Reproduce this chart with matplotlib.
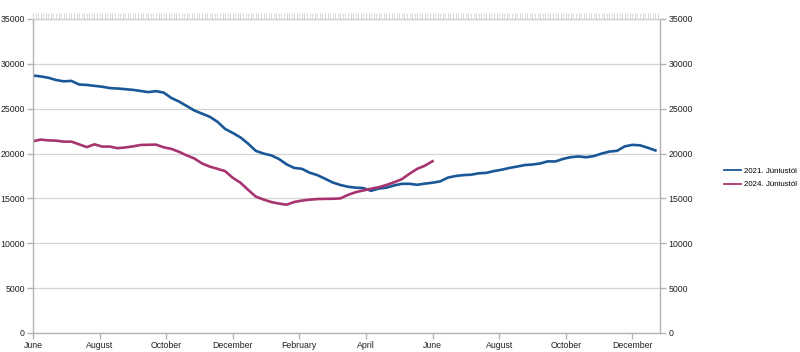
import matplotlib
matplotlib.use("Agg")
import matplotlib.pyplot as plt
import numpy as np

# Weekly values, week 0 = start of June
series_2021 = [28700, 28600, 28450, 28200, 28050, 28100, 27700, 27650, 27550, 27450,
               27300, 27250, 27180, 27100, 26980, 26850, 26960, 26800, 26200, 25800,
               25300, 24800, 24450, 24100, 23550, 22750, 22300, 21800, 21100, 20300,
               20000, 19800, 19400, 18800, 18400, 18300, 17870, 17600, 17200, 16780,
               16500, 16300, 16200, 16150, 15850, 16100, 16200, 16450, 16630, 16630,
               16520, 16650, 16750, 16900, 17320, 17500, 17600, 17640, 17800, 17850,
               18050, 18200, 18400, 18550, 18720, 18780, 18900, 19130, 19120, 19410,
               19600, 19680, 19590, 19720, 20000, 20220, 20300, 20800, 20970, 20920,
               20650, 20350]
series_2024 = [21370, 21560, 21470, 21440, 21330, 21330, 21030, 20720, 21030, 20780,
               20780, 20600, 20680, 20800, 20960, 20980, 21000, 20700, 20520, 20200,
               19800, 19450, 18900, 18550, 18300, 18040, 17300, 16750, 15950, 15200,
               14880, 14600, 14430, 14300, 14600, 14760, 14860, 14930, 14950, 14960,
               15000, 15400, 15700, 15890, 16080, 16250, 16500, 16800, 17150, 17750,
               18300, 18650, 19150]
labels = ["2021. Júniustól", "2024. Júniustól"]
month_labels = ["June", "August", "October", "December", "February", "April",
                "June", "August", "October", "December"]
month_positions = [0, 2, 4, 6, 8, 10, 12, 14, 16, 18]  # months from start

plt.rcParams['font.family'] = ['Liberation Sans', 'DejaVu Sans']

fig = plt.figure(figsize=(8, 3.52), dpi=100)
ax = fig.add_axes([33/800, 19/352, 627/800, 314/352])

wk_per_month = 52/12
x1 = np.arange(len(series_2021))
x2 = np.arange(len(series_2024))
ax.plot(x1, series_2021, color='#1a5796', lw=1.9, label=labels[0], solid_joinstyle='round')
ax.plot(x2, series_2024, color='#a8346f', lw=1.9, label=labels[1], solid_joinstyle='round')

ax.set_xlim(0, 81.6)
ax.set_ylim(0, 35000)
ax.set_yticks(range(0, 35001, 5000))
ax.set_yticklabels([str(v) for v in range(0, 35001, 5000)])
ax.set_xticks([m*wk_per_month for m in month_positions])
ax.set_xticklabels(month_labels)

ax.grid(axis='y', color='#d4d4d4', lw=0.9)
ax.set_axisbelow(True)
for s in ['left', 'right', 'bottom']:
    ax.spines[s].set_color('#b3b3b3')
    ax.spines[s].set_linewidth(1.0)
ax.spines['top'].set_color('#d0d0d0')
ax.spines['top'].set_linewidth(1.0)

ax.tick_params(axis='both', colors='#b3b3b3', labelcolor='#222222', labelsize=6.3, length=4, width=1)
ax.tick_params(axis='y', which='major', left=True, right=True, labelleft=True, labelright=True, pad=2)
ax.tick_params(axis='x', pad=1.5)

# dense minor ticks at top edge
top = ax.secondary_xaxis('top')
top.set_xticks(np.arange(0, 81.6, 1/3))
top.set_xticklabels([])
top.tick_params(colors='#d8d8d8', length=4, width=0.7)
top.spines['top'].set_visible(False)

fig.legend(loc='center left', bbox_to_anchor=(724/800, 1 - 178/352), frameon=False,
           fontsize=5.7, handlelength=2.2, handletextpad=0.3, labelspacing=0.8,
           borderaxespad=0, handleheight=0.5, borderpad=0)
for ln in fig.legends[0].get_lines():
    ln.set_linewidth(1.3)

fig.savefig('out.png', dpi=100, facecolor='white')
